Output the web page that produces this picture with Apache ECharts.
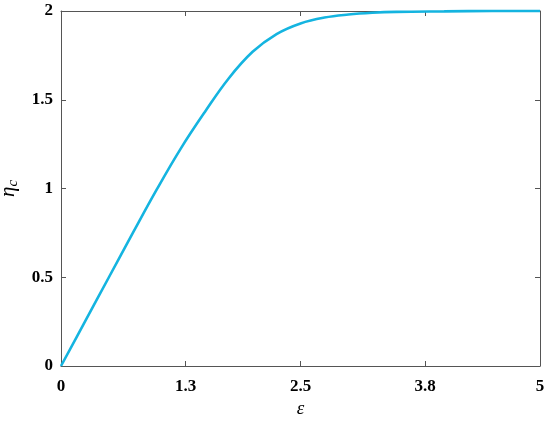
<!DOCTYPE html>
<html>
<head>
<meta charset="utf-8">
<script src="https://cdn.jsdelivr.net/npm/echarts@6/dist/echarts.min.js"></script>
<style>
html, body { margin: 0; padding: 0; background: #fff; }
#chart { width: 550px; height: 421px; }
</style>
</head>
<body>
<div id="chart"></div>
<script>
// values
var epsValues = [0, 0.25, 0.5, 0.75, 1.0, 1.25, 1.5, 1.75, 2.0, 2.25, 2.5, 2.75, 3.0, 3.25, 3.5, 4.0, 4.5, 5.0]
var etaValues = [0, 0.25, 0.5, 0.75, 0.995, 1.225, 1.43, 1.62, 1.77, 1.87, 1.93, 1.963, 1.98, 1.99, 1.995, 1.998, 2.0, 2.0]
var xTicks = [0, 1.3, 2.5, 3.8, 5]

var points = []
for (var i = 0; i < epsValues.length; i++) {
  points.push([epsValues[i], etaValues[i]])
}

var axisColor = '#555'
var font = 'Liberation Serif'

var chart = echarts.init(document.getElementById('chart'))
var option = {
  animation: false,
  grid: { left: 61, right: 10, top: 11, bottom: 55, containLabel: false, outerBoundsMode: 'none' },
  xAxis: [{
    type: 'value',
    min: 0,
    max: 5,
    name: 'ε',
    nameLocation: 'middle',
    nameGap: 24,
    nameTextStyle: { fontFamily: font, fontStyle: 'italic', fontSize: 19, color: '#000' },
    axisLine: { lineStyle: { color: axisColor } },
    axisTick: { inside: true, length: 5, customValues: xTicks, lineStyle: { color: axisColor } },
    axisLabel: {
      customValues: xTicks,
      margin: 12,
      fontFamily: font, fontWeight: 'bold', fontSize: 17, color: '#000'
    },
    splitLine: { show: false }
  }, {
    type: 'value',
    position: 'top',
    min: 0,
    max: 5,
    axisLine: { onZero: false, lineStyle: { color: axisColor } },
    axisTick: { inside: true, length: 5, customValues: xTicks, lineStyle: { color: axisColor } },
    axisLabel: { show: false },
    splitLine: { show: false }
  }],
  yAxis: [{
    type: 'value',
    min: 0,
    max: 2,
    interval: 0.5,
    name: '{a|η}{b|c}',
    nameLocation: 'middle',
    nameRotate: 90,
    nameGap: 38,
    nameTextStyle: {
      rich: {
        a: { fontFamily: font, fontStyle: 'italic', fontSize: 21, color: '#000' },
        b: { fontFamily: font, fontStyle: 'italic', fontSize: 15, color: '#000', padding: [10, 0, 0, 0] }
      }
    },
    axisLine: { show: true, lineStyle: { color: axisColor } },
    axisTick: { show: true, inside: true, length: 5, lineStyle: { color: axisColor } },
    axisLabel: { margin: 8, fontFamily: font, fontWeight: 'bold', fontSize: 17, color: '#000' },
    splitLine: { show: false }
  }, {
    type: 'value',
    position: 'right',
    min: 0,
    max: 2,
    interval: 0.5,
    axisLine: { show: true, onZero: false, lineStyle: { color: axisColor } },
    axisTick: { show: true, inside: true, length: 5, lineStyle: { color: axisColor } },
    axisLabel: { show: false },
    splitLine: { show: false }
  }],
  series: [{
    type: 'line',
    data: points,
    smooth: 0.4,
    showSymbol: false,
    lineStyle: { color: '#14b4e0', width: 2.6 },
    clip: false
  }]
}
chart.setOption(option)
</script>
</body>
</html>
